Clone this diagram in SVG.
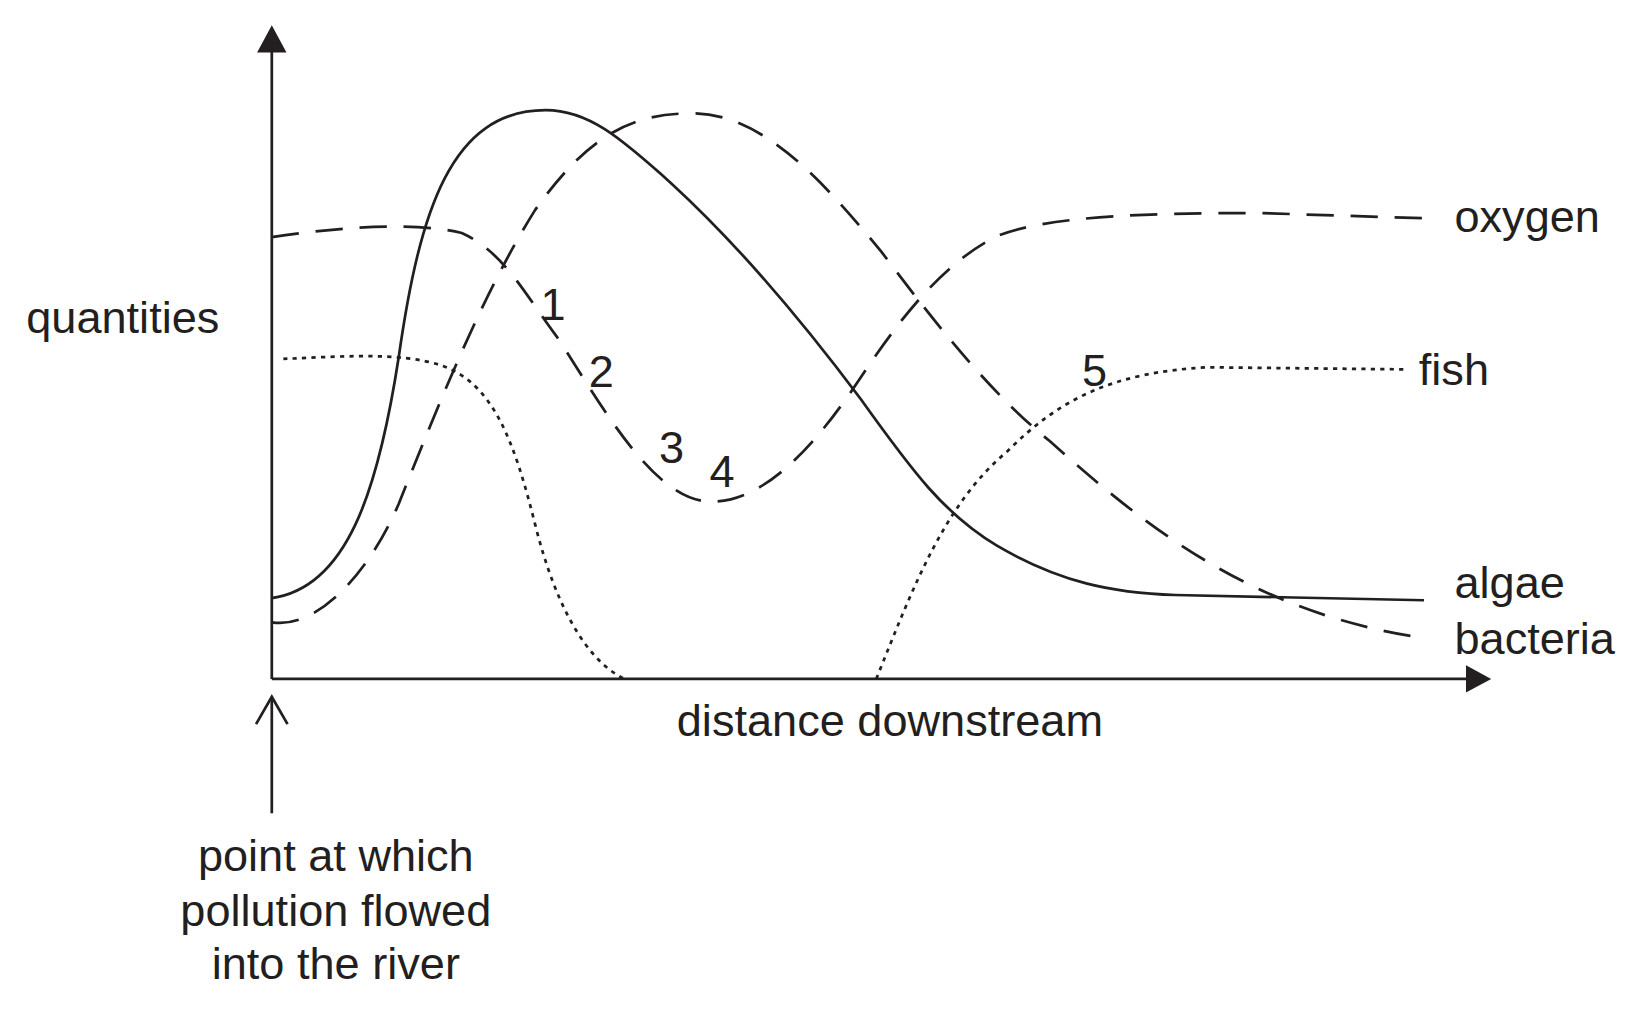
<svg xmlns="http://www.w3.org/2000/svg" width="1637" height="1012" viewBox="0 0 1637 1012">
<style>
.c{fill:none;stroke:#231f20;stroke-width:2.6}
.d{stroke-dasharray:26 16}
.f{stroke-dasharray:4 5}
text{font-family:"Liberation Sans",Arial,sans-serif;font-size:43px;fill:#231f20}
</style>
<rect width="1637" height="1012" fill="#fff"/>
<g transform="scale(1.0494)">
<g id="axes">
<line class="c" x1="259" y1="647" x2="259" y2="45"/>
<polygon points="245,50 273,50 259,24" fill="#231f20"/>
<line class="c" x1="259" y1="647" x2="1400" y2="647"/>
<polygon points="1397,634 1397,660 1421,647" fill="#231f20"/>
<line class="c" x1="259" y1="775" x2="259" y2="665"/>
<polyline class="c" points="244,690 259,664 274,690"/>
</g>
<g id="connectors">
<path id="algae-curve" class="c" d="M259,570 C330,560 360,470 380,340 C400,200 430,105 520,105 C560,105 590,130 640,175 C700,230 760,300 820,380 C870,450 900,490 950,520 C1010,555 1060,565 1120,567 L1357,572"/>
<path id="bacteria-curve" class="c d" d="M259,593 C300,600 350,550 380,480 C420,380 460,280 510,200 C560,130 600,108 660,108 C730,108 790,180 840,240 C900,320 950,380 1000,420 C1100,510 1200,585 1357,608"/>
<path id="oxygen-curve" class="c d" d="M259,226 C330,215 400,212 440,222 C480,240 500,280 530,320 C570,380 620,475 675,478 C730,480 780,420 820,360 C860,300 900,250 950,225 C1000,205 1100,203 1200,203 L1357,208"/>
<path id="fish-curve" class="c f" d="M270,342 C320,340 380,335 420,348 C470,365 490,420 510,500 C530,580 560,630 595,647 M835,647 C870,560 900,480 960,430 C1010,380 1060,355 1150,350 L1340,352"/>
</g>
<g id="labels">
<text x="515" y="305">1</text>
<text x="561" y="369">2</text>
<text x="628" y="441">3</text>
<text x="676" y="464">4</text>
<text x="1031" y="368">5</text>
<text x="1386" y="221">oxygen</text>
<text x="1352" y="367">fish</text>
<text x="1386" y="570">algae</text>
<text x="1386" y="623">bacteria</text>
<text x="25" y="317">quantities</text>
<text x="848" y="701" text-anchor="middle">distance downstream</text>
<text x="320" y="830" text-anchor="middle">point at which</text>
<text x="320" y="882" text-anchor="middle">pollution flowed</text>
<text x="320" y="933" text-anchor="middle">into the river</text>
</g>
</g>
</svg>
